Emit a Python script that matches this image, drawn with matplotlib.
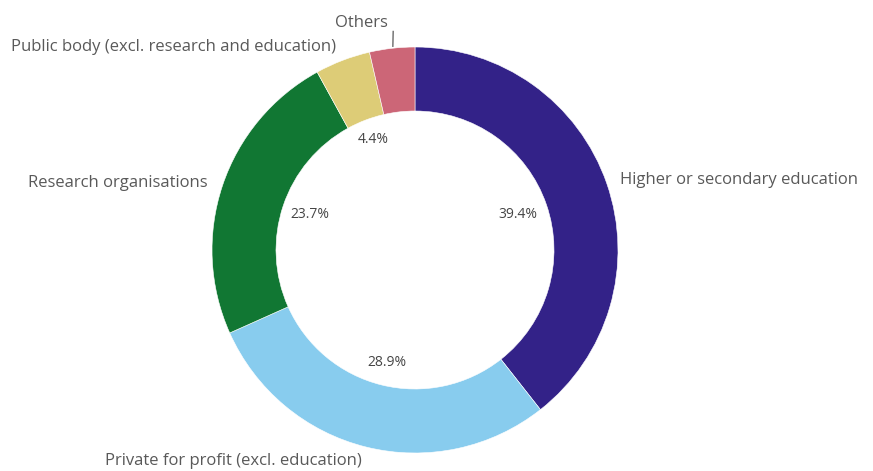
import numpy as np
import matplotlib
matplotlib.use("Agg")
import matplotlib.pyplot as plt

categories = [
    "Higher or secondary education",
    "Private for profit (excl. education)",
    "Research organisations",
    "Public body (excl. research and education)",
    "Others",
]
shares = [39.4, 28.9, 23.7, 4.4, 3.6]
show_pct = [True, True, True, True, False]
colors = ["#332288", "#88CCEE", "#117733", "#DDCC77", "#CC6677"]

W, H = 873, 471
fig = plt.figure(figsize=(W / 100, H / 100), dpi=100)
ax = fig.add_axes([0, 0, 1, 1])

cx, cy = 415, H - 250
R, ring = 203, 64

wedges, _ = ax.pie(
    shares, colors=colors, startangle=90, counterclock=False,
    radius=R, center=(cx, cy),
    wedgeprops=dict(width=ring, edgecolor="white", linewidth=0.4),
)
ax.set_xlim(0, W)
ax.set_ylim(0, H)
ax.set_aspect("equal")
ax.axis("off")

font = "Open Sans"
label_color = "#595959"
pct_color = "#454545"

# per slice: (pct radius, label radius, dx, dy, ha)
layout = [
    (109, 212, 5, 1, "left"),
    (116, 212, -2, -5, "right"),
    (111, 212, -6, 0, "right"),
    (118, 212, -3, 5, "right"),
    (0, 222, -2, 6, "right"),
]

for w, name, val, show, (pr, lr, dx, dy, ha) in zip(wedges, categories, shares, show_pct, layout):
    mid = np.deg2rad((w.theta1 + w.theta2) / 2)
    c, s = np.cos(mid), np.sin(mid)
    if show:
        ax.text(cx + pr * c, cy + pr * s, f"{val:.1f}%", ha="center", va="center",
                fontsize=10, color=pct_color, family=font)
    ax.text(cx + lr * c + dx, cy + lr * s + dy, name, ha=ha, va="center",
            fontsize=12, color=label_color, family=font)

# leader line for the narrow last slice
w = wedges[-1]
mid = np.deg2rad((w.theta1 + w.theta2) / 2)
ax.plot([cx + 205 * np.cos(mid) + 1, cx + 220 * np.cos(mid) + 3],
        [cy + 205 * np.sin(mid), cy + 220 * np.sin(mid)],
        color="#595959", lw=0.9)

fig.savefig("out.png", dpi=100, facecolor="white")
